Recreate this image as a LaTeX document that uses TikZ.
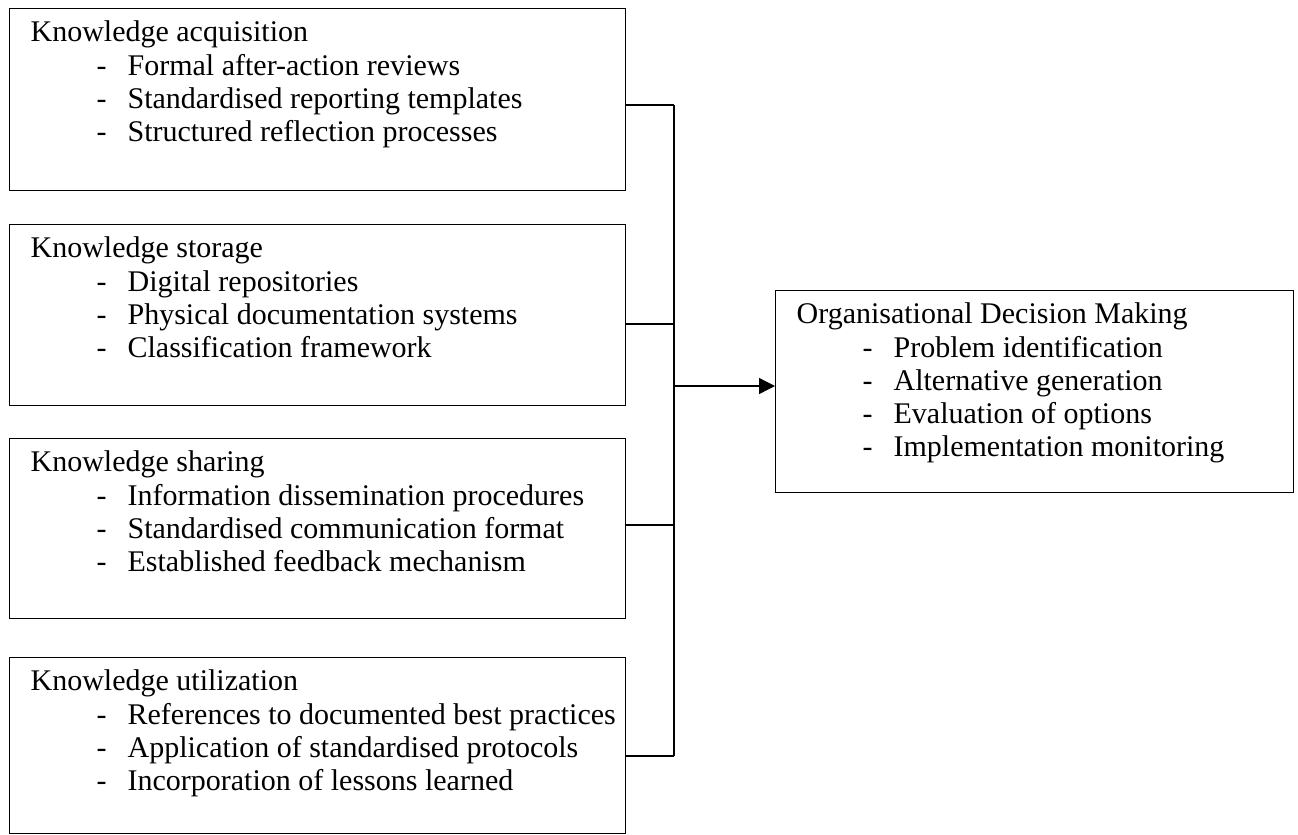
\documentclass[tikz,border=0pt]{standalone}
\usepackage{fontspec}
\setmainfont{Liberation Serif}
\usetikzlibrary{arrows.meta}
\newcommand{\itm}{\hspace*{26.4pt}\makebox[12.4pt][l]{-}}

\begin{document}
\begin{tikzpicture}[x=0.4pt, y=-0.4pt, line width=0.5pt,
                    kbox/.style={draw, rectangle, anchor=north west, inner sep=0pt,
                                 minimum width=246.4pt, minimum height=#1},
                    dbox/.style={kbox=#1, minimum width=207.2pt},
                    ktext/.style={anchor=north west, align=left, inner xsep=8.4pt,
                                  inner ysep=5pt, font=\fontsize{12}{13.3}\selectfont},
                    feed/.style={-{Triangle[length=6.4pt,width=6.4pt]}}]
  \useasboundingbox (0,0) rectangle (1298,834);

  \node[kbox=72.8pt] (ka) at (9,8) {};
  \node[ktext] (ka-txt) at (ka.north west)
    {Knowledge acquisition\\ \itm Formal after-action reviews\\
     \itm Standardised reporting templates\\ \itm Structured reflection processes};

  \node[kbox=72.4pt] (ks) at (9,224) {};
  \node[ktext] (ks-txt) at (ks.north west)
    {Knowledge storage\\ \itm Digital repositories\\
     \itm Physical documentation systems\\ \itm Classification framework};

  \node[kbox=72pt] (kh) at (9,438) {};
  \node[ktext] (kh-txt) at (kh.north west)
    {Knowledge sharing\\ \itm Information dissemination procedures\\
     \itm Standardised communication format\\ \itm Established feedback mechanism};

  \node[kbox=70.4pt] (ku) at (9,657) {};
  \node[ktext] (ku-txt) at (ku.north west)
    {Knowledge utilization\\ \itm References to documented best practices\\
     \itm Application of standardised protocols\\ \itm Incorporation of lessons learned};

  \node[dbox=80.8pt] (odm) at (775,290) {};
  \node[ktext] (odm-txt) at (odm.north west)
    {Organisational Decision Making\\ \itm Problem identification\\
     \itm Alternative generation\\ \itm Evaluation of options\\
     \itm Implementation monitoring};

  \coordinate (j1) at (674,105);
  \coordinate (j2) at (674,324);
  \coordinate (j3) at (674,525);
  \coordinate (j4) at (674,756);
  \coordinate (jm) at (674,386);

  \draw (ka.east |- j1) -- (j1);
  \draw (ks.east |- j2) -- (j2);
  \draw (kh.east |- j3) -- (j3);
  \draw (ku.east |- j4) -- (j4);
  \draw (j1) -- (j4);
  \draw[feed] (jm) -- (odm.west |- jm);
\end{tikzpicture}
\end{document}
